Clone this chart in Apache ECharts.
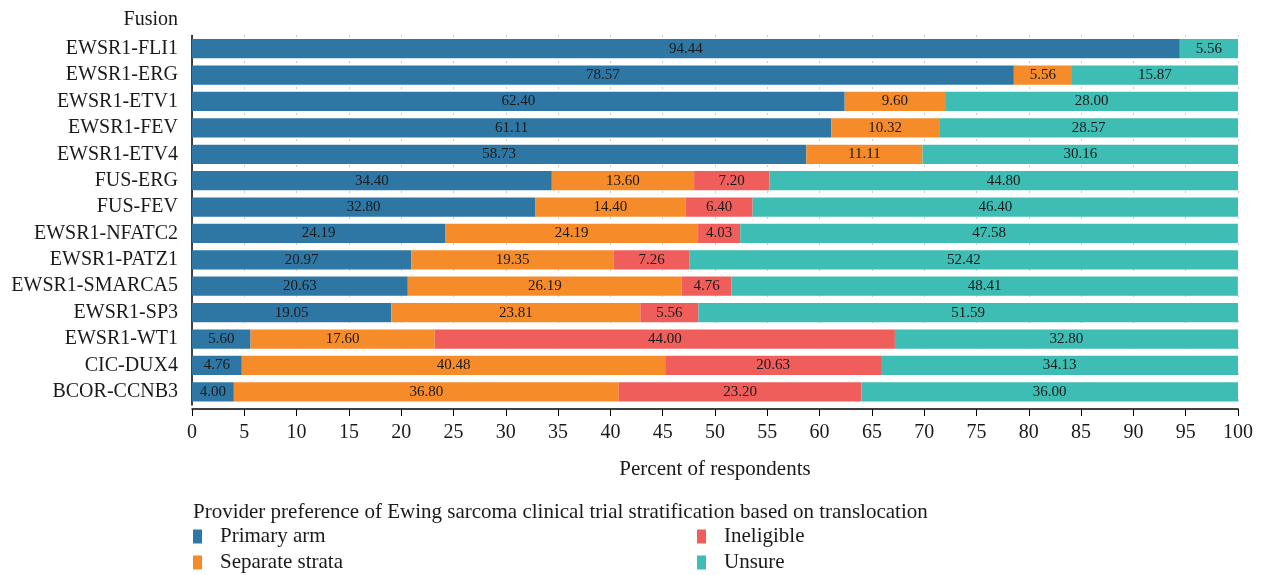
<!DOCTYPE html>
<html>
<head>
<meta charset="utf-8">
<script src="https://cdn.jsdelivr.net/npm/echarts@6/dist/echarts.min.js"></script>
<style>
  html, body { margin: 0; padding: 0; background: #fff; }
  #main { width: 1262px; height: 575px; }
</style>
</head>
<body>
<div id="main"></div>
<script>
var fusions = ['EWSR1-FLI1', 'EWSR1-ERG', 'EWSR1-ETV1', 'EWSR1-FEV', 'EWSR1-ETV4', 'FUS-ERG', 'FUS-FEV',
  'EWSR1-NFATC2', 'EWSR1-PATZ1', 'EWSR1-SMARCA5', 'EWSR1-SP3', 'EWSR1-WT1', 'CIC-DUX4', 'BCOR-CCNB3']
var primaryArm = [94.44, 78.57, 62.40, 61.11, 58.73, 34.40, 32.80, 24.19, 20.97, 20.63, 19.05, 5.60, 4.76, 4.00]
var separateStrata = [null, 5.56, 9.60, 10.32, 11.11, 13.60, 14.40, 24.19, 19.35, 26.19, 23.81, 17.60, 40.48, 36.80]
var ineligible = [null, null, null, null, null, 7.20, 6.40, 4.03, 7.26, 4.76, 5.56, 44.00, 20.63, 23.20]
var unsure = [5.56, 15.87, 28.00, 28.57, 30.16, 44.80, 46.40, 47.58, 52.42, 48.41, 51.59, 32.80, 34.13, 36.00]

var FONT = 'Liberation Serif'
var TXT = '#1a1a1a'
var main = document.getElementById('main')
var myChart = echarts.init(main)

function bar(name, data, color) {
  return {
    name: name,
    type: 'bar',
    stack: 'total',
    data: data,
    barWidth: '73%',
    itemStyle: { color: color },
    label: {
      show: true,
      position: 'inside',
      color: TXT,
      fontFamily: FONT,
      fontSize: 15,
      formatter: function (p) { return p.value == null ? '' : Number(p.value).toFixed(2) }
    }
  }
}

function legendBox(items, left) {
  return {
    data: items,
    orient: 'vertical',
    left: left,
    top: 526,
    height: 60,
    padding: 0,
    icon: 'rect',
    itemWidth: 9,
    itemHeight: 14,
    itemGap: 5,
    textStyle: { fontFamily: FONT, fontSize: 21, lineHeight: 20, color: TXT, padding: [0, 0, 0, 13] }
  }
}

myChart.setOption({
  textStyle: { fontFamily: FONT },
  animation: false,
  title: {
    text: 'Provider preference of Ewing sarcoma clinical trial stratification based on translocation',
    left: 188,
    top: 497,
    textStyle: { fontFamily: FONT, fontSize: 21, fontWeight: 'normal', color: TXT }
  },
  legend: [
    legendBox(['Primary arm', 'Separate strata'], 193),
    legendBox(['Ineligible', 'Unsure'], 697)
  ],
  grid: { left: 192, right: 24, top: 35.5, height: 369.5 },
  xAxis: {
    type: 'value',
    min: 0,
    max: 100,
    interval: 5,
    offset: 4,
    name: 'Percent of respondents',
    nameLocation: 'middle',
    nameGap: 50,
    nameTextStyle: { fontFamily: FONT, fontSize: 21, color: TXT },
    axisLine: { show: true, lineStyle: { color: '#000', width: 1.5 } },
    axisTick: { show: true, length: 7, lineStyle: { color: '#000' } },
    axisLabel: { fontFamily: FONT, fontSize: 20, color: TXT, margin: 14 },
    splitLine: { show: true, lineStyle: { color: '#999', type: [1, 25], width: 1 } }
  },
  yAxis: {
    type: 'category',
    data: fusions,
    inverse: true,
    name: 'Fusion',
    nameLocation: 'start',
    nameGap: 6,
    nameTextStyle: { fontFamily: FONT, fontSize: 20, color: TXT, align: 'right', padding: [0, 14, 0, 0] },
    axisLine: { show: true, lineStyle: { color: '#000', width: 1.5 } },
    axisTick: { show: false },
    axisLabel: { fontFamily: FONT, fontSize: 20, color: TXT, margin: 14 }
  },
  series: [
    bar('Primary arm', primaryArm, '#2e77a5'),
    bar('Separate strata', separateStrata, '#f68b2a'),
    bar('Ineligible', ineligible, '#f05e5c'),
    bar('Unsure', unsure, '#3dbdb3')
  ]
})
</script>
</body>
</html>
